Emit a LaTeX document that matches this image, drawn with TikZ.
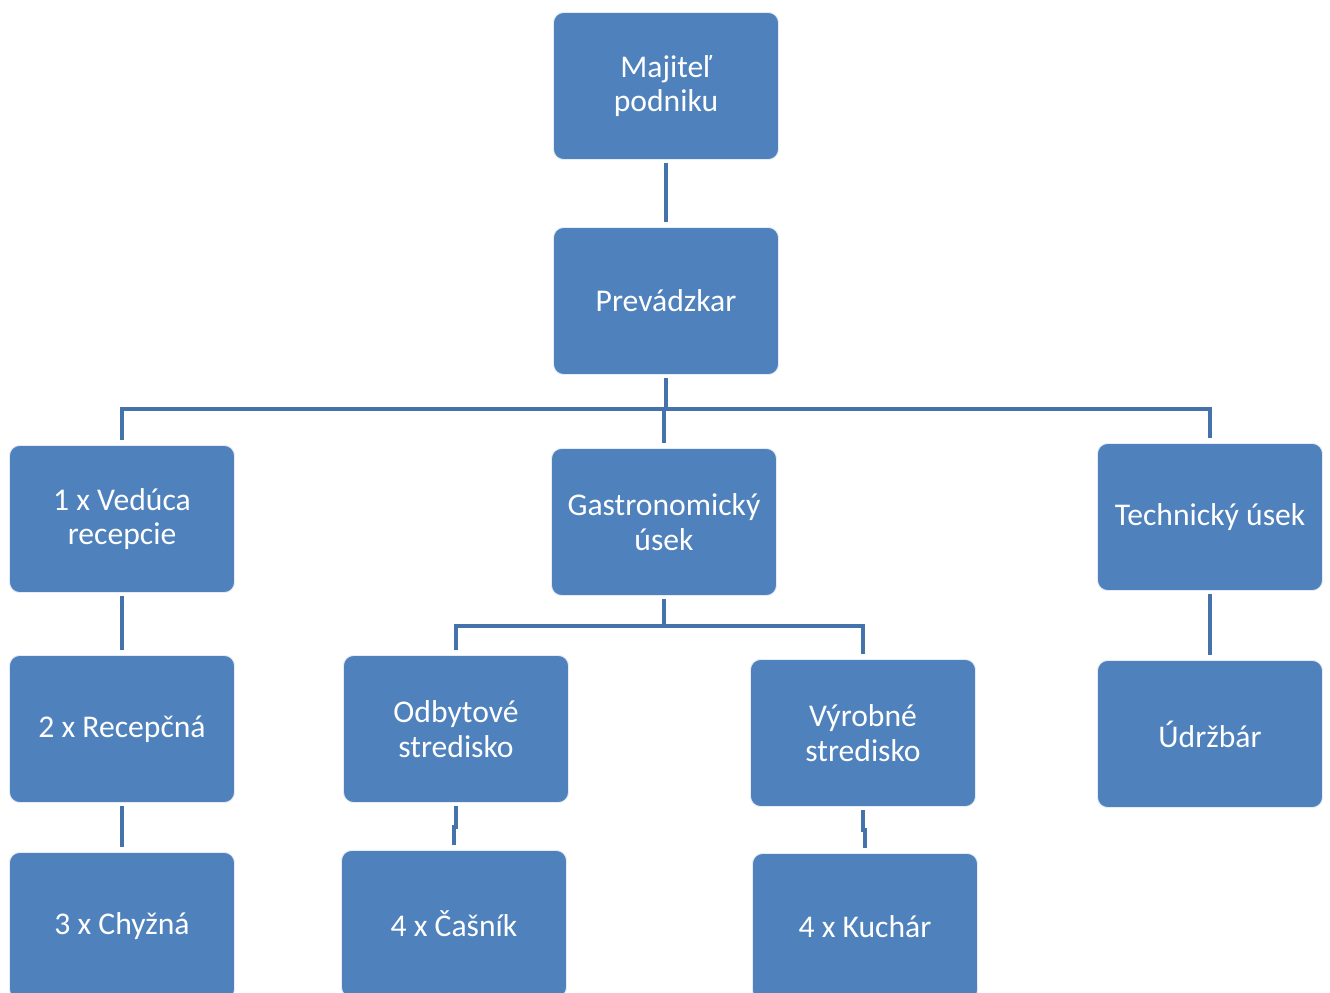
\documentclass[tikz,border=0pt]{standalone}
\usepackage{fontspec}
\setmainfont{Carlito}
\usetikzlibrary{calc}
\definecolor{boxblue}{RGB}{79,129,189}
\definecolor{linkblue}{RGB}{68,114,170}
\begin{document}
\begin{tikzpicture}[x=0.02cm,y=-0.02cm,
  orgbox/.style={draw=white!85!boxblue, line width=0.5pt, fill=boxblue, rounded corners=0.2cm,
    minimum width=4.5cm, minimum height=2.94cm, text=white, align=center,
    font=\fontsize{18}{19.6}\selectfont, inner sep=2pt},
  conn/.style={draw=linkblue, line width=0.08cm, shorten <=0.07cm, shorten >=0.1cm}]
\useasboundingbox (0,0) rectangle (1330,993);
\clip (0,0) rectangle (1330,993);
\node[orgbox] (maj) at (666,86) {Majiteľ\\podniku};
\node[orgbox] (prev) at (666,301) {Prevádzkar};
\node[orgbox] (ved) at (122,519) {1 x Vedúca\\recepcie};
\node[orgbox] (gas) at (664,522) {Gastronomický\\úsek};
\node[orgbox] (tech) at (1210,517) {Technický úsek};
\node[orgbox] (rec) at (122,729) {2 x Recepčná};
\node[orgbox] (odb) at (456,729) {Odbytové\\stredisko};
\node[orgbox] (vyr) at (863,733) {Výrobné\\stredisko};
\node[orgbox] (udr) at (1210,734) {Údržbár};
\node[orgbox] (chy) at (122,926) {3 x Chyžná};
\node[orgbox] (cas) at (454,924) {4 x Čašník};
\node[orgbox] (kuc) at (865,927) {4 x Kuchár};
\coordinate (bus) at (666,409);
\coordinate (gbus) at (664,626);
\coordinate (omid) at ($(odb.south)!0.5!(cas.north)$);
\coordinate (vmid) at ($(vyr.south)!0.5!(kuc.north)$);
\draw[conn] (maj.south) -- (prev.north);
\draw[conn, shorten >=0pt] (prev.south) -- (bus);
\draw[conn, shorten <=0pt] (bus) -| (ved.north);
\draw[conn, shorten <=0pt] (bus) -| (gas.north);
\draw[conn, shorten <=0pt] (bus) -| (tech.north);
\draw[conn, shorten >=0pt] (gas.south) -- (gbus);
\draw[conn, shorten <=0pt] (gbus) -| (odb.north);
\draw[conn, shorten <=0pt] (gbus) -| (vyr.north);
\draw[conn] (ved.south) -- (rec.north);
\draw[conn] (rec.south) -- (chy.north);
\draw[conn] (odb.south) -- (odb.south |- omid) -- (cas.north |- omid) -- (cas.north);
\draw[conn] (vyr.south) -- (vyr.south |- vmid) -- (kuc.north |- vmid) -- (kuc.north);
\draw[conn] (tech.south) -- (udr.north);
\end{tikzpicture}
\end{document}
